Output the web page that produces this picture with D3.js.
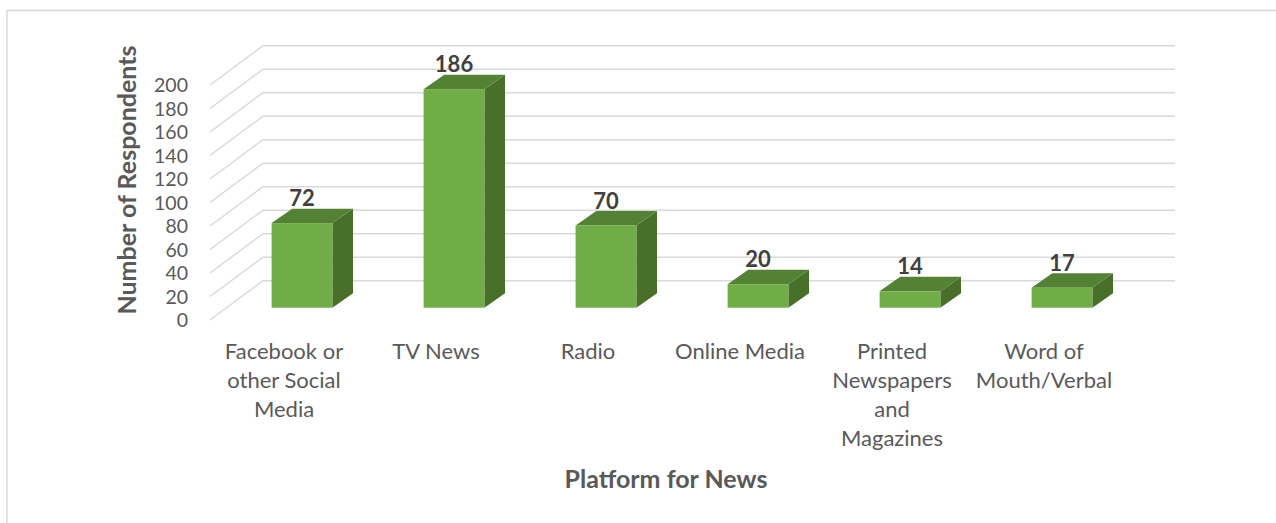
<!DOCTYPE html>
<html>
<head>
<meta charset="utf-8">
<script src="https://cdn.jsdelivr.net/npm/d3@7"></script>
<style>
  html, body { margin: 0; padding: 0; background: #ffffff; }
  svg { display: block; }
  text { font-family: Lato, "Open Sans", sans-serif; }
</style>
</head>
<body>
<svg id="chart" width="1276" height="523"></svg>
<script>
// Categories (line breaks mark where each label wraps)
const categories = [
  "Facebook or\nother Social\nMedia",
  "TV News",
  "Radio",
  "Online Media",
  "Printed\nNewspapers\nand\nMagazines",
  "Word of\nMouth/Verbal"
];
const respondents = [72, 186, 70, 20, 14, 17];
const yTicks = [0, 20, 40, 60, 80, 100, 120, 140, 160, 180, 200];
const yTitle = "Number of Respondents";
const xTitle = "Platform for News";

const svg = d3.select("#chart");

// Outer chart frame
svg.append("rect")
  .attr("x", 7).attr("y", 10.5)
  .attr("width", 1300).attr("height", 600)
  .attr("fill", "none").attr("stroke", "#d9d9d9").attr("stroke-width", 1.5);

// 3D layout: front floor edge, wall depth and bar placement in depth
const floorX = 210, floorY = 320, plotW = 912;
const wallDx = 53, wallDy = -39.3;
const barDx0 = 16, barDy0 = -12.3;   // bar front plane offset
const barDx = 20.6, barDy = -14.4;   // bar thickness in depth

const x = d3.scaleBand().domain(categories).range([floorX, floorX + plotW]).padding(0);
const h = d3.scaleLinear().domain([0, 200]).range([0, 235]);
const barW = x.bandwidth() * 0.4;

const grid = svg.append("g").attr("stroke", "#d9d9d9").attr("stroke-width", 1.5).attr("fill", "none");
yTicks.forEach(v => {
  const yf = floorY - h(v);
  const yb = floorY + wallDy - h(v);
  grid.append("path")
    .attr("d", `M${floorX},${yf}L${floorX + wallDx},${yb}L${floorX + wallDx + plotW},${yb}`);
});

// Y tick labels
svg.append("g").selectAll("text").data(yTicks).join("text")
  .attr("x", 188)
  .attr("y", d => floorY - h(d))
  .attr("dy", "0.36em")
  .attr("text-anchor", "end")
  .attr("font-size", 19.5)
  .attr("fill", "#595959")
  .text(d => d);

// Bars: side, top, front faces
const bars = svg.append("g").selectAll("g").data(categories.map((c, i) => ({ c, v: respondents[i] }))).join("g");

bars.each(function(d) {
  const g = d3.select(this);
  const cx = x(d.c) + x.bandwidth() / 2 + barDx0;
  const left = cx - barW / 2, right = cx + barW / 2;
  const bottom = floorY + barDy0;
  const top = bottom - h(d.v);
  // right side face
  g.append("path")
    .attr("d", `M${right},${bottom}L${right + barDx},${bottom + barDy}L${right + barDx},${top + barDy}L${right},${top}Z`)
    .attr("fill", "#48702b");
  // top face
  g.append("path")
    .attr("d", `M${left},${top}L${left + barDx},${top + barDy}L${right + barDx},${top + barDy}L${right},${top}Z`)
    .attr("fill", "#548235");
  // front face
  g.append("rect")
    .attr("x", left).attr("y", top)
    .attr("width", barW).attr("height", h(d.v))
    .attr("fill", "#70ad47");
  // value label
  g.append("text")
    .attr("x", cx)
    .attr("y", top + barDy - 2.5)
    .attr("text-anchor", "middle")
    .attr("font-size", 22)
    .attr("font-weight", "bold")
    .attr("fill", "#404040")
    .text(d.v);
});

// Category labels
const catG = svg.append("g");
categories.forEach(c => {
  const t = catG.append("text")
    .attr("text-anchor", "middle")
    .attr("font-size", 22)
    .attr("fill", "#595959");
  c.split("\n").forEach((line, j) => {
    t.append("tspan")
      .attr("x", x(c) + x.bandwidth() / 2 - 2)
      .attr("y", 359 + j * 29)
      .text(line);
  });
});

// Axis titles
svg.append("text")
  .attr("transform", "translate(136,180) rotate(-90)")
  .attr("text-anchor", "middle")
  .attr("font-size", 25)
  .attr("font-weight", "bold")
  .attr("fill", "#595959")
  .text(yTitle);

svg.append("text")
  .attr("x", 666).attr("y", 488)
  .attr("text-anchor", "middle")
  .attr("font-size", 25)
  .attr("font-weight", "bold")
  .attr("fill", "#595959")
  .text(xTitle);
</script>
</body>
</html>
